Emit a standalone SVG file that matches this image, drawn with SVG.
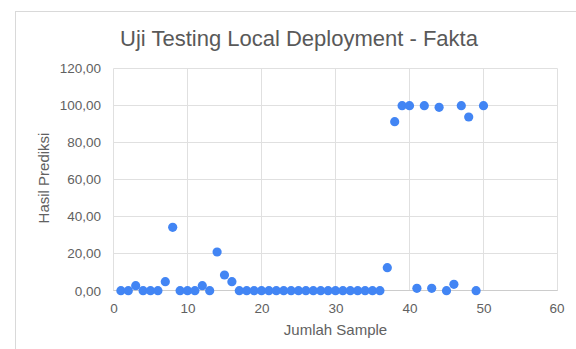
<svg xmlns="http://www.w3.org/2000/svg" width="576" height="349" viewBox="0 0 576 349">
<style>
.grid{stroke:#e0e0e0;stroke-width:1;fill:none}
.axis{stroke:#cccccc;stroke-width:1}
.tick{font-family:"Liberation Sans",Arial,sans-serif;font-size:13.5px;fill:#616161}
.title{font-family:"Liberation Sans",Arial,sans-serif;font-size:22px;fill:#595959}
.lab{font-family:"Liberation Sans",Arial,sans-serif;font-size:15px;fill:#616161}
.pt{fill:#4285f4}
</style>
<rect x="0" y="0" width="576" height="349" fill="#ffffff"/>
<rect x="15.5" y="11.5" width="580" height="360" fill="none" stroke="#d9d9d9" stroke-width="1"/>
<text class="title" x="299" y="46" text-anchor="middle">Uji Testing Local Deployment - Fakta</text>
<g id="grid">
<line class="grid" x1="113.5" y1="68.5" x2="557.5" y2="68.5"/>
<line class="grid" x1="113.5" y1="105.5" x2="557.5" y2="105.5"/>
<line class="grid" x1="113.5" y1="142.5" x2="557.5" y2="142.5"/>
<line class="grid" x1="113.5" y1="179.5" x2="557.5" y2="179.5"/>
<line class="grid" x1="113.5" y1="216.5" x2="557.5" y2="216.5"/>
<line class="grid" x1="113.5" y1="253.5" x2="557.5" y2="253.5"/>
<line class="grid" x1="113.5" y1="68.5" x2="113.5" y2="291"/>
<line class="grid" x1="187.5" y1="68.5" x2="187.5" y2="291"/>
<line class="grid" x1="261.5" y1="68.5" x2="261.5" y2="291"/>
<line class="grid" x1="335.5" y1="68.5" x2="335.5" y2="291"/>
<line class="grid" x1="409.5" y1="68.5" x2="409.5" y2="291"/>
<line class="grid" x1="483.5" y1="68.5" x2="483.5" y2="291"/>
<line class="grid" x1="557.5" y1="68.5" x2="557.5" y2="291"/>
<line class="axis" x1="113.5" y1="290.5" x2="557.5" y2="290.5"/>
</g>
<g id="yticks" text-anchor="end">
<text class="tick" x="101" y="73">120,00</text>
<text class="tick" x="101" y="110">100,00</text>
<text class="tick" x="101" y="147">80,00</text>
<text class="tick" x="101" y="184">60,00</text>
<text class="tick" x="101" y="221">40,00</text>
<text class="tick" x="101" y="258">20,00</text>
<text class="tick" x="101" y="296">0,00</text>
</g>
<g id="xticks" text-anchor="middle">
<text class="tick" x="114" y="313">0</text>
<text class="tick" x="188" y="313">10</text>
<text class="tick" x="262" y="313">20</text>
<text class="tick" x="336" y="313">30</text>
<text class="tick" x="410" y="313">40</text>
<text class="tick" x="484" y="313">50</text>
<text class="tick" x="557" y="313">60</text>
</g>
<text class="lab" x="335.5" y="335" text-anchor="middle">Jumlah Sample</text>
<text class="lab" transform="translate(49,178) rotate(-90)" text-anchor="middle">Hasil Prediksi</text>
<g id="points">
<circle class="pt" cx="120.9" cy="290.7" r="4.6"/>
<circle class="pt" cx="128.3" cy="290.7" r="4.6"/>
<circle class="pt" cx="135.7" cy="285.7" r="4.6"/>
<circle class="pt" cx="143.1" cy="290.7" r="4.6"/>
<circle class="pt" cx="150.5" cy="290.7" r="4.6"/>
<circle class="pt" cx="157.9" cy="290.7" r="4.6"/>
<circle class="pt" cx="165.3" cy="281.7" r="4.6"/>
<circle class="pt" cx="172.7" cy="227.3" r="4.6"/>
<circle class="pt" cx="180.1" cy="290.7" r="4.6"/>
<circle class="pt" cx="187.5" cy="290.7" r="4.6"/>
<circle class="pt" cx="194.9" cy="290.7" r="4.6"/>
<circle class="pt" cx="202.3" cy="285.7" r="4.6"/>
<circle class="pt" cx="209.7" cy="290.7" r="4.6"/>
<circle class="pt" cx="217.1" cy="252.0" r="4.6"/>
<circle class="pt" cx="224.5" cy="275.0" r="4.6"/>
<circle class="pt" cx="231.9" cy="281.7" r="4.6"/>
<circle class="pt" cx="239.3" cy="290.7" r="4.6"/>
<circle class="pt" cx="246.7" cy="290.7" r="4.6"/>
<circle class="pt" cx="254.1" cy="290.7" r="4.6"/>
<circle class="pt" cx="261.5" cy="290.7" r="4.6"/>
<circle class="pt" cx="268.9" cy="290.7" r="4.6"/>
<circle class="pt" cx="276.3" cy="290.7" r="4.6"/>
<circle class="pt" cx="283.7" cy="290.7" r="4.6"/>
<circle class="pt" cx="291.1" cy="290.7" r="4.6"/>
<circle class="pt" cx="298.5" cy="290.7" r="4.6"/>
<circle class="pt" cx="305.9" cy="290.7" r="4.6"/>
<circle class="pt" cx="313.3" cy="290.7" r="4.6"/>
<circle class="pt" cx="320.7" cy="290.7" r="4.6"/>
<circle class="pt" cx="328.1" cy="290.7" r="4.6"/>
<circle class="pt" cx="335.5" cy="290.7" r="4.6"/>
<circle class="pt" cx="342.9" cy="290.7" r="4.6"/>
<circle class="pt" cx="350.3" cy="290.7" r="4.6"/>
<circle class="pt" cx="357.7" cy="290.7" r="4.6"/>
<circle class="pt" cx="365.1" cy="290.7" r="4.6"/>
<circle class="pt" cx="372.5" cy="290.7" r="4.6"/>
<circle class="pt" cx="379.9" cy="290.7" r="4.6"/>
<circle class="pt" cx="387.3" cy="267.7" r="4.6"/>
<circle class="pt" cx="394.7" cy="121.7" r="4.6"/>
<circle class="pt" cx="402.1" cy="105.7" r="4.6"/>
<circle class="pt" cx="409.5" cy="105.7" r="4.6"/>
<circle class="pt" cx="416.9" cy="288.3" r="4.6"/>
<circle class="pt" cx="424.3" cy="105.7" r="4.6"/>
<circle class="pt" cx="431.7" cy="288.3" r="4.6"/>
<circle class="pt" cx="439.1" cy="107.3" r="4.6"/>
<circle class="pt" cx="446.5" cy="290.7" r="4.6"/>
<circle class="pt" cx="453.9" cy="284.3" r="4.6"/>
<circle class="pt" cx="461.3" cy="105.7" r="4.6"/>
<circle class="pt" cx="468.7" cy="117.0" r="4.6"/>
<circle class="pt" cx="476.1" cy="290.7" r="4.6"/>
<circle class="pt" cx="483.5" cy="105.7" r="4.6"/>
</g>
</svg>
